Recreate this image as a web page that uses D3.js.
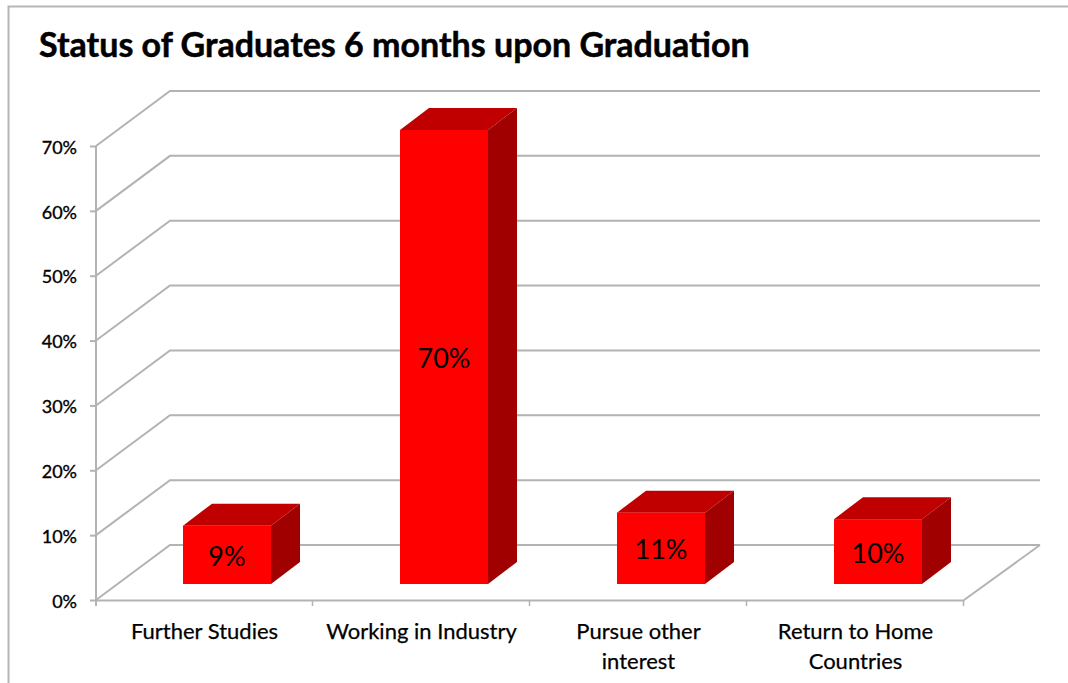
<!DOCTYPE html>
<html lang="en">
<head>
    <title>Status of Graduates</title>
    <script src="https://d3js.org/d3.v7.min.js"></script>
    <style>
        body { margin: 0; background: #fff; }
        svg { display: block; }
        text { font-family: Lato, "Open Sans", sans-serif; fill: #000; }
    </style>
</head>
<body>
    <svg width="1068" height="683" id="mainsvg"></svg>
    <script>
        const categories = ['Further Studies', 'Working in Industry', 'Pursue other interest', 'Return to Home Countries']
        const values = [9, 70, 11, 10]
        const valueLabels = ['9%', '70%', '11%', '10%']
        const yTicks = [0, 10, 20, 30, 40, 50, 60, 70]
        const titleText = 'Status of Graduates 6 months upon Graduation'

        const svg = d3.select('#mainsvg')
        const gridColor = '#b3b3b3'

        // chart frame
        svg.append('path')
            .attr('d', 'M8.5,683V6.5H1068')
            .attr('fill', 'none').attr('stroke', '#b5b5b5').attr('stroke-width', 2)

        svg.append('text').text(titleText)
            .attr('x', 39).attr('y', 57)
            .attr('font-size', 34).attr('font-weight', 700)
            .attr('stroke', '#000').attr('stroke-width', 0.5)

        const xScale = d3.scaleBand().domain(categories).range([96, 964])
        const yScale = d3.scaleLinear().domain([0, 70]).range([600, 146])

        // depth of the floor and of the bars
        const wallDx = 74, wallDy = -55
        const barDx = 29, barDy = -22
        const barW = 88
        const barShiftX = 22.5, barShiftY = -16

        const g = svg.append('g')

        // back wall gridlines with the diagonal on the side wall
        g.selectAll('.grid').data(yTicks).join('path')
            .attr('class', 'grid')
            .attr('fill', 'none').attr('stroke', gridColor).attr('stroke-width', 2)
            .attr('d', d => d3.line()([
                [96, yScale(d)],
                [96 + wallDx, yScale(d) + wallDy],
                [1040, yScale(d) + wallDy]
            ]))

        // floor
        g.append('path')
            .attr('fill', 'none').attr('stroke', gridColor).attr('stroke-width', 2)
            .attr('d', d3.line()([
                [1040, yScale(0) + wallDy],
                [964, yScale(0)]
            ]))

        // axes
        const yAxis = d3.axisLeft(yScale).tickValues(yTicks).tickFormat(d => d + '%').tickSize(6).tickPadding(13)
        const xAxis = d3.axisBottom(xScale).tickSize(0).tickFormat('')
        const yAxisGroup = svg.append('g').attr('transform', 'translate(96,0)').call(yAxis)
        yAxisGroup.selectAll('.domain').attr('stroke', gridColor).attr('stroke-width', 2).attr('d', 'M0,146V606')
        yAxisGroup.selectAll('line').attr('stroke', gridColor).attr('stroke-width', 2)
        yAxisGroup.selectAll('text')
            .attr('font-size', 18).attr('font-family', 'Lato').attr('dy', '0.4em')
            .attr('stroke', '#000').attr('stroke-width', 0.35)

        const xAxisGroup = svg.append('g').attr('transform', 'translate(0,600)').call(xAxis)
        xAxisGroup.selectAll('.domain').attr('stroke', gridColor).attr('stroke-width', 2)
        xAxisGroup.selectAll('.tick').remove()
        xAxisGroup.selectAll('.sep').data(categories).join('line')
            .attr('class', 'sep')
            .attr('x1', d => xScale(d) + xScale.bandwidth() - 0.5)
            .attr('x2', d => xScale(d) + xScale.bandwidth() - 0.5)
            .attr('y1', 0).attr('y2', 6)
            .attr('stroke', gridColor).attr('stroke-width', 1.5)

        // category labels, wrapped as in the reference
        const lineBreaks = {
            'Pursue other interest': ['Pursue other', 'interest'],
            'Return to Home Countries': ['Return to Home', 'Countries']
        }
        categories.forEach(c => {
            const lines = lineBreaks[c] || [c]
            lines.forEach((t, i) => {
                svg.append('text').text(t)
                    .attr('x', xScale(c) + xScale.bandwidth() / 2)
                    .attr('y', 639 + i * 30)
                    .attr('text-anchor', 'middle')
                    .attr('font-size', 22)
                    .attr('stroke', '#000').attr('stroke-width', 0.25)
            })
        })

        // bars
        const bars = svg.selectAll('.bar').data(categories).join('g').attr('class', 'bar')
        const barX = c => xScale(c) + xScale.bandwidth() / 2 + barShiftX - barW / 2
        const barTop = (c, i) => yScale(values[i]) + barShiftY
        const barBottom = yScale(0) + barShiftY

        bars.append('path').attr('fill', '#c00000')
            .attr('d', (c, i) => d3.line()([
                [barX(c), barTop(c, i)],
                [barX(c) + barDx, barTop(c, i) + barDy],
                [barX(c) + barW + barDx, barTop(c, i) + barDy],
                [barX(c) + barW, barTop(c, i)]
            ]) + 'Z')
        bars.append('path').attr('fill', '#a00000')
            .attr('d', (c, i) => d3.line()([
                [barX(c) + barW, barTop(c, i)],
                [barX(c) + barW + barDx, barTop(c, i) + barDy],
                [barX(c) + barW + barDx, barBottom + barDy],
                [barX(c) + barW, barBottom]
            ]) + 'Z')
        bars.append('rect').attr('fill', '#ff0000')
            .attr('x', c => barX(c))
            .attr('y', (c, i) => barTop(c, i))
            .attr('width', barW)
            .attr('height', (c, i) => barBottom - barTop(c, i))

        bars.append('text')
            .text((c, i) => valueLabels[i])
            .attr('x', c => barX(c) + barW / 2)
            .attr('y', (c, i) => (barTop(c, i) + barBottom) / 2 + 11)
            .attr('text-anchor', 'middle')
            .attr('font-size', 27)
    </script>
</body>
</html>
